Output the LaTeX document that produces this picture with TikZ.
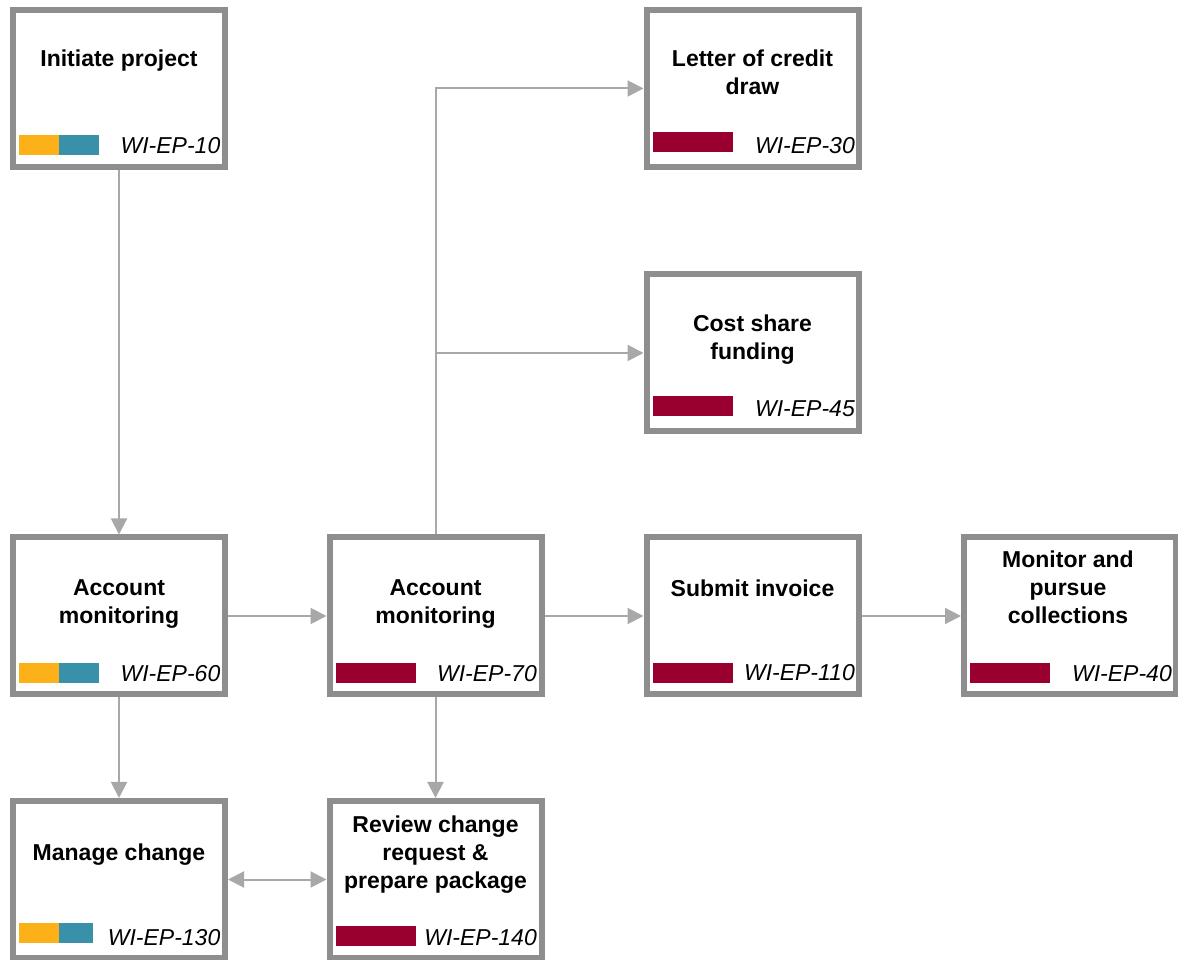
\documentclass[tikz,border=0pt]{standalone}
\usepackage{fontspec}
\setmainfont{Liberation Sans}
\usepackage{xcolor}
\usepackage{tikz}
\usetikzlibrary{arrows.meta,positioning,calc}

\definecolor{boxgray}{HTML}{8E8E8E}
\definecolor{linkgray}{HTML}{A8A8A8}
\definecolor{wiorange}{HTML}{FBB117}
\definecolor{witeal}{HTML}{3891A8}
\definecolor{wired}{HTML}{990030}

\begin{document}
\begin{tikzpicture}[x=1pt,y=1pt,
  wibox/.style={draw=boxgray,line width=6pt,fill=white,minimum width=212pt,minimum height=157pt,inner sep=0pt},
  wititle/.style={font=\fontsize{23}{28}\selectfont\bfseries,align=center,anchor=base,inner sep=0pt},
  wicode/.style={font=\fontsize{23}{28}\selectfont\itshape,anchor=base east,inner sep=0pt},
  wibar/.style={minimum height=20pt,inner sep=0pt,outer sep=0pt,anchor=south west},
  flow/.style={draw=linkgray,line width=2pt,-{Triangle[length=16pt,width=16pt]}}]
  \useasboundingbox (0,0) rectangle (1178,959);

  \node[wibox] (ep10) at (119,870.5) {};
  \node[wibox] (ep30) at (752.5,870.5) {};
  \node[wibox] (ep45) at (752.5,606) {};
  \node[wibox] (ep60) at (119,343) {};
  \node[wibox] (ep70) at (435.5,343) {};
  \node[wibox] (ep110) at (752.5,343) {};
  \node[wibox] (ep40) at (1070,343) {};
  \node[wibox] (ep130) at (119,79.5) {};
  \node[wibox] (ep140) at (435.5,79.5) {};

  \node[wititle] (t10) at (119,892) {Initiate project};
  \node[wititle] (t30) at (752.5,864) {Letter of credit\\draw};
  \node[wititle] (t45) at (752.5,599) {Cost share\\funding};
  \node[wititle] (t60) at (119,335) {Account\\monitoring};
  \node[wititle] (t70) at (435.5,335) {Account\\monitoring};
  \node[wititle] (t110) at (752.5,362) {Submit invoice};
  \node[wititle] (t40) at (1068,335) {Monitor and\\pursue\\collections};
  \node[wititle] (t130) at (119,99) {Manage change};
  \node[wititle] (t140) at (435.5,71) {Review change\\request \&\\prepare package};

  \node[wibar,fill=wiorange,minimum width=40pt] (b10a) at (19,804) {};
  \node[wibar,fill=witeal,minimum width=40pt,right=0pt of b10a] (b10b) {};
  \node[wibar,fill=wired,minimum width=80pt] (b30) at (653,807) {};
  \node[wibar,fill=wired,minimum width=80pt] (b45) at (653,543) {};
  \node[wibar,fill=wiorange,minimum width=40pt] (b60a) at (19,276) {};
  \node[wibar,fill=witeal,minimum width=40pt,right=0pt of b60a] (b60b) {};
  \node[wibar,fill=wired,minimum width=80pt] (b70) at (336,276) {};
  \node[wibar,fill=wired,minimum width=80pt] (b110) at (653,276) {};
  \node[wibar,fill=wired,minimum width=80pt] (b40) at (970,276) {};
  \node[wibar,fill=wiorange,minimum width=40pt] (b130a) at (19,16) {};
  \node[wibar,fill=witeal,minimum width=34pt,right=0pt of b130a] (b130b) {};
  \node[wibar,fill=wired,minimum width=80pt] (b140) at (336,13) {};

  \node[wicode] (c10) at (220.5,805.5) {WI-EP-10};
  \node[wicode] (c30) at (855,805) {WI-EP-30};
  \node[wicode] (c45) at (855,542) {WI-EP-45};
  \node[wicode] (c60) at (220.5,277) {WI-EP-60};
  \node[wicode] (c70) at (537,277) {WI-EP-70};
  \node[wicode] (c110) at (855,278) {WI-EP-110};
  \node[wicode] (c40) at (1172,277) {WI-EP-40};
  \node[wicode] (c130) at (220.5,14) {WI-EP-130};
  \node[wicode] (c140) at (537,14) {WI-EP-140};

  \draw[flow] (ep10) -- (ep60);
  \draw[flow] (ep60) -- (ep70);
  \draw[flow] (ep70) -- (ep110);
  \draw[flow] (ep110) -- (ep40);
  \draw[flow] (ep60) -- (ep130);
  \draw[flow] (ep70) -- (ep140);
  \draw[flow,{Triangle[length=16pt,width=16pt]}-{Triangle[length=16pt,width=16pt]}] (ep130) -- (ep140);
  \draw[flow] (ep70.north) |- (ep30.west);
  \draw[flow] (ep70.north |- ep45.west) -- (ep45.west);
\end{tikzpicture}
\end{document}
